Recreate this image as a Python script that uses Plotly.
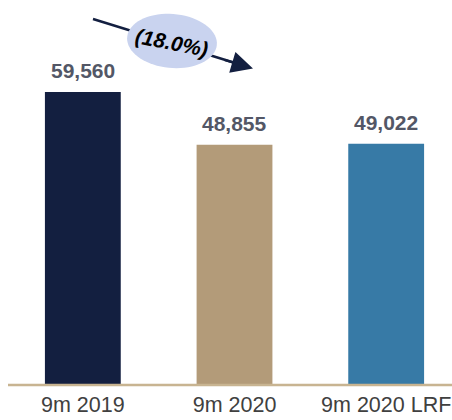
import numpy as np
import plotly.graph_objects as go

categories = ["9m 2019", "9m 2020", "9m 2020 LRF"]
values = [59560, 48855, 49022]
labels = ["59,560", "48,855", "49,022"]
colors = ["#131f40", "#b39b79", "#377aa6"]
change_label = "(18.0%)"

W, H = 452, 420
L, R, T, B = 7, 0, 0, 35
PW, PH = W - L - R, H - T - B

def px(x):
    return (x - L) / PW

def py(y):
    return (H - B - y) / PH

fig = go.Figure()
fig.add_trace(go.Bar(
    x=categories, y=values, marker=dict(color=colors, line=dict(width=0)),
    width=0.5, hoverinfo="skip"))

for c, v, t in zip(categories, values, labels):
    fig.add_annotation(x=c, y=v, text="<b>%s</b>" % t, showarrow=False,
                       yshift=21, font=dict(family="Liberation Sans, Arial", size=21, color="#535766"))

cx, cy, rx, ry, ang = 172, 41, 45, 27, np.deg2rad(5)
th = np.linspace(0, 2 * np.pi, 72)
ex = cx + rx * np.cos(th) * np.cos(ang) - ry * np.sin(th) * np.sin(ang)
ey = cy + rx * np.cos(th) * np.sin(ang) + ry * np.sin(th) * np.cos(ang)
path = "M " + " L ".join("%.4f,%.4f" % (px(a), py(b)) for a, b in zip(ex, ey)) + " Z"

shapes = [
    dict(type="line", xref="paper", yref="paper", x0=px(93), y0=py(19), x1=px(240), y1=py(64.5),
         line=dict(color="#131f40", width=2.4)),
    dict(type="path", xref="paper", yref="paper", path=path,
         fillcolor="#c9d3ef", line=dict(width=0)),
    dict(type="line", xref="paper", yref="paper", x0=px(8), y0=0, x1=1, y1=0,
         line=dict(color="#c8b491", width=2.5)),
]
fig.add_annotation(xref="paper", yref="paper", x=px(253), y=py(68.5), ax=-30, ay=-9,
                   axref="pixel", ayref="pixel", showarrow=True, arrowhead=2, arrowsize=1.8,
                   arrowwidth=2.4, arrowcolor="#131f40", text="")
fig.add_annotation(xref="paper", yref="paper", x=px(172), y=py(42), text="<b><i>%s</i></b>" % change_label,
                   showarrow=False, textangle=11, xanchor="center", yanchor="middle",
                   font=dict(family="Liberation Sans, Arial", size=21, color="#000000"))

fig.update_layout(
    width=W, height=H, margin=dict(l=L, r=R, t=T, b=B),
    paper_bgcolor="white", plot_bgcolor="white", showlegend=False,
    shapes=shapes, bargap=0.5,
    xaxis=dict(range=[-0.5, 2.434], showgrid=False, zeroline=False, showline=False,
               ticks="", ticklabelstandoff=4,
               tickfont=dict(family="Liberation Sans, Arial", size=21.5, color="#404040")),
    yaxis=dict(range=[0, 78260], visible=False),
)
fig.write_html("out.html")
